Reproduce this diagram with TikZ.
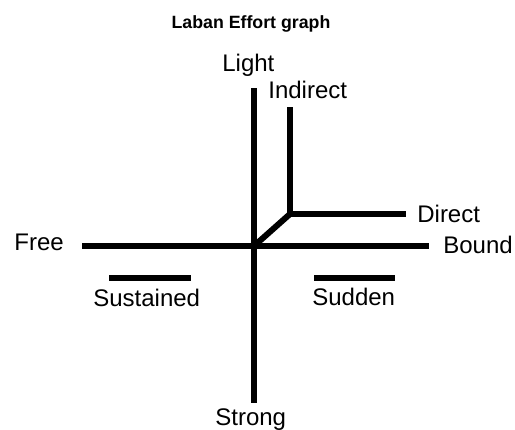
\documentclass[tikz,border=0pt]{standalone}
\usepackage{fontspec}
\setmainfont{Liberation Sans}
\usepackage{tikz}
\usetikzlibrary{positioning}

\begin{document}
\begin{tikzpicture}[
  x=0.02cm,y=-0.02cm,
  axis/.style={line width=0.12cm},
  bar/.style={line width=0.13cm},
  label/.style={inner sep=0pt,anchor=base west,font=\fontsize{13.66}{16}\selectfont},
  heading/.style={inner sep=0pt,anchor=base,font=\fontsize{10.1}{12}\selectfont\bfseries}
]
\useasboundingbox (0,0) rectangle (515,430);
% title
\node[heading] (title) at (251,28) {Laban Effort graph};
% axis ends
\coordinate (top) at (254,88);
\coordinate (bottom) at (254,403);
\coordinate (left) at (82,246);
\coordinate (right) at (429,246);
\coordinate (origin) at (254,246);
\coordinate (knee) at (290,214);
\coordinate (up) at (290,107);
\coordinate (side) at (406,214);
% labels
\node[label] (light) at (222,71) {Light};
\node[label] (strong) at (215,425) {Strong};
\node[label] (free) at (14,250) {Free};
\node[label] (bound) at (443,253) {Bound};
\node[label] (indirect) at (268,98) {Indirect};
\node[label] (direct) at (417,222) {Direct};
\node[label] (sustained) at (93,306) {Sustained};
\node[label] (sudden) at (312,305) {Sudden};
% axes
\draw[axis] (top) -- (bottom);
\draw[axis] (left) -- (right);
\draw[axis] (origin) -- (knee) -- (up);
\draw[axis] (knee) -- (side);
% bars
\draw[bar] (109,278) coordinate (s1) -- (191,278) coordinate (s2);
\draw[bar] (314,278) coordinate (d1) -- (395,278) coordinate (d2);
\end{tikzpicture}
\end{document}
